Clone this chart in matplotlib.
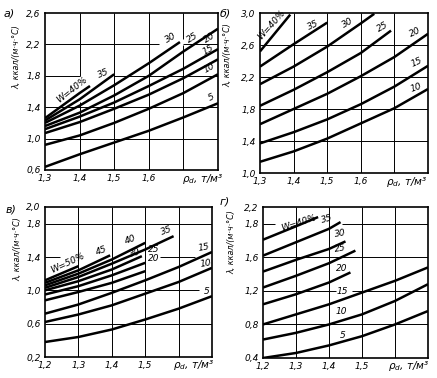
import matplotlib
matplotlib.use("Agg")
import matplotlib.pyplot as plt
import matplotlib.transforms as mtransforms

plt.rcParams['font.family'] = ['DejaVu Sans']
plt.rcParams['font.style'] = 'italic'

# а)
a_x = [1.3, 1.4, 1.5, 1.6, 1.7, 1.8]
a_w5 = [0.64, 0.80, 0.95, 1.10, 1.27, 1.45]
a_w10 = [0.92, 1.04, 1.20, 1.38, 1.58, 1.82]
a_w15 = [1.07, 1.21, 1.38, 1.56, 1.77, 2.01]
a_w20 = [1.12, 1.28, 1.46, 1.67, 1.89, 2.14]
a_w25 = [1.16, 1.33, 1.55, 1.80, 2.11, 2.40]
a_x30 = [1.3, 1.4, 1.5, 1.6, 1.69]
a_w30 = [1.20, 1.42, 1.68, 1.96, 2.23]
a_x35 = [1.3, 1.4, 1.5]
a_w35 = [1.23, 1.50, 1.82]
a_x40 = [1.3, 1.4, 1.43]
a_w40 = [1.26, 1.58, 1.67]

# б)
b_x = [1.3, 1.4, 1.5, 1.6, 1.7, 1.8]
b_w10 = [1.14, 1.27, 1.43, 1.62, 1.81, 2.05]
b_w15 = [1.37, 1.51, 1.67, 1.86, 2.08, 2.34]
b_w20 = [1.61, 1.80, 1.99, 2.21, 2.45, 2.74]
b_x25 = [1.3, 1.4, 1.5, 1.6, 1.69]
b_w25 = [1.84, 2.04, 2.26, 2.50, 2.78]
b_x30 = [1.3, 1.4, 1.5, 1.6, 1.64]
b_w30 = [2.11, 2.33, 2.58, 2.87, 2.99]
b_x35 = [1.3, 1.4, 1.5]
b_w35 = [2.33, 2.61, 2.88]
b_x40 = [1.3, 1.39]
b_w40 = [2.52, 2.98]

# в)
c_x = [1.2, 1.3, 1.4, 1.5, 1.6, 1.7]
c_w5 = [0.38, 0.44, 0.53, 0.65, 0.78, 0.93]
c_w10 = [0.62, 0.71, 0.82, 0.96, 1.10, 1.27]
c_w15 = [0.72, 0.83, 0.97, 1.12, 1.28, 1.46]
c_x20 = [1.2, 1.3, 1.4, 1.5]
c_w20 = [0.88, 0.98, 1.09, 1.23]
c_w25 = [0.95, 1.05, 1.18, 1.33]
c_x30 = [1.2, 1.3, 1.4, 1.49]
c_w30 = [1.00, 1.11, 1.25, 1.41]
c_x35 = [1.2, 1.3, 1.4, 1.5, 1.585]
c_w35 = [1.03, 1.16, 1.32, 1.49, 1.65]
c_x40 = [1.2, 1.3, 1.4, 1.5]
c_w40 = [1.06, 1.20, 1.37, 1.57]
c_x45 = [1.2, 1.3, 1.395]
c_w45 = [1.09, 1.24, 1.42]
c_x50 = [1.2, 1.3]
c_w50 = [1.12, 1.29]

# г)
d_x = [1.2, 1.3, 1.4, 1.5, 1.6, 1.7]
d_w5 = [0.40, 0.46, 0.55, 0.66, 0.80, 0.96]
d_w10 = [0.62, 0.70, 0.80, 0.92, 1.08, 1.28]
d_w15 = [0.80, 0.92, 1.04, 1.18, 1.32, 1.48]
d_x20 = [1.2, 1.3, 1.4, 1.465]
d_w20 = [1.04, 1.16, 1.30, 1.42]
d_x25 = [1.2, 1.3, 1.4, 1.48]
d_w25 = [1.24, 1.38, 1.53, 1.68]
d_x30 = [1.2, 1.3, 1.4, 1.45]
d_w30 = [1.43, 1.57, 1.70, 1.79]
d_x35 = [1.2, 1.3, 1.4, 1.435]
d_w35 = [1.62, 1.78, 1.94, 2.02]
d_x40 = [1.2, 1.3, 1.367]
d_w40 = [1.81, 1.97, 2.08]

ylabel = 'λ, ккал/(м·ч·°С)'
xlabel = r'$\rho_d$, т/м³'


def fmt(v):
    return f'{v:.1f}'.replace('.', ',')


def panel(rect, xlim, ylim, xticks, yticks, ylabels, hgrid, vgrid, hcut, vcut,
          curves, labels, letter, letter_pos, xl_x, yl_pos):
    ax = fig.add_axes(rect)
    ax.set_xlim(xlim)
    ax.set_ylim(ylim)
    ax.set_xticks(xticks, [fmt(v) for v in xticks])
    ax.set_yticks(yticks, ylabels)
    ax.tick_params(length=0, pad=3, labelsize=6.5)
    for s in ax.spines.values():
        s.set_linewidth(1.2)
    for y in hgrid:
        for x0, x1 in hcut.get(y, [xlim]):
            ax.hlines(y, x0, x1, color='k', lw=0.7, zorder=1)
    for x in vgrid:
        for y0, y1 in vcut.get(x, [ylim]):
            ax.vlines(x, y0, y1, color='k', lw=0.7, zorder=1)
    for xs, ys in curves:
        ax.plot(xs, ys, color='k', lw=1.8, solid_capstyle='butt', zorder=3)
    for txt, x, y, rot in labels:
        ax.text(x, y, txt, fontsize=6.5, rotation=rot, ha='center', va='center',
                rotation_mode='anchor', zorder=4)
    trans = mtransforms.blended_transform_factory(ax.transData, ax.transAxes)
    ax.text(xl_x, -0.055, xlabel, transform=trans, fontsize=7.5,
            ha='center', va='center')
    ax.text(yl_pos[0], yl_pos[1], ylabel, transform=ax.transAxes, fontsize=5.8,
            rotation=90, ha='center', va='center')
    fig.text(letter_pos[0] / 437, 1 - letter_pos[1] / 378, letter, fontsize=8,
             ha='left', va='center')
    return ax


fig = plt.figure(figsize=(4.37, 3.78), dpi=100)

panel([45 / 437, 1 - 170 / 378, 173 / 437, 157 / 378],
      (1.3, 1.8), (0.6, 2.6), [1.3, 1.4, 1.5, 1.6],
      [0.6, 1.0, 1.4, 1.8, 2.2, 2.6], ['0,6', '1,0', '1,4', '1,8', '2,2', '2,6'],
      [1.0, 1.4, 1.8, 2.2], [1.4, 1.5, 1.6, 1.7],
      {2.2: [(1.3, 1.63), (1.70, 1.8)], 1.8: [(1.3, 1.4), (1.5, 1.8)]},
      {1.4: [(0.6, 1.47), (1.8, 2.6)], 1.7: [(0.6, 2.19), (2.27, 2.6)]},
      [(a_x, a_w5), (a_x, a_w10), (a_x, a_w15), (a_x, a_w20), (a_x, a_w25),
       (a_x30, a_w30), (a_x35, a_w35), (a_x40, a_w40)],
      [('W=40%', 1.378, 1.62, 38), ('35', 1.47, 1.83, 22), ('30', 1.663, 2.28, 30),
       ('25', 1.726, 2.29, 32), ('20', 1.776, 2.28, 32), ('15', 1.772, 2.13, 30),
       ('10', 1.775, 1.90, 30), ('5', 1.78, 1.52, 25)],
      'а)', (4, 14), 1.755, (-0.16, 0.72))

panel([260 / 437, 1 - 173 / 378, 168 / 437, 160 / 378],
      (1.3, 1.8), (1.0, 3.0), [1.3, 1.4, 1.5, 1.6],
      [1.0, 1.4, 1.8, 2.2, 2.6, 3.0], ['1,0', '1,4', '1,8', '2,2', '2,6', '3,0'],
      [1.4, 1.8, 2.2, 2.6], [1.4, 1.5, 1.6, 1.7], {}, {},
      [(b_x, b_w10), (b_x, b_w15), (b_x, b_w20), (b_x25, b_w25),
       (b_x30, b_w30), (b_x35, b_w35), (b_x40, b_w40)],
      [('W=40%', 1.333, 2.85, 48), ('35', 1.457, 2.84, 25), ('30', 1.56, 2.87, 30),
       ('25', 1.664, 2.82, 30), ('20', 1.762, 2.76, 25), ('15', 1.767, 2.38, 25),
       ('10', 1.766, 2.07, 20)],
      'б)', (220, 13), 1.736, (-0.19, 0.74))

panel([45 / 437, 1 - 357 / 378, 167 / 437, 150 / 378],
      (1.2, 1.7), (0.2, 2.0), [1.2, 1.3, 1.4, 1.5],
      [0.2, 0.6, 1.0, 1.4, 1.8, 2.0], ['0,2', '0,6', '1,0', '1,4', '1,8', '2,0'],
      [0.6, 1.0, 1.4, 1.8], [1.3, 1.4, 1.5, 1.6],
      {1.4: [(1.2, 1.245), (1.545, 1.65)], 1.0: [(1.2, 1.66)]}, {},
      [(c_x, c_w5), (c_x, c_w10), (c_x, c_w15), (c_x20, c_w20), (c_x20, c_w25),
       (c_x30, c_w30), (c_x35, c_w35), (c_x40, c_w40), (c_x45, c_w45),
       (c_x50, c_w50)],
      [('W=50%', 1.268, 1.33, 25), ('45', 1.37, 1.48, 20), ('40', 1.455, 1.61, 20),
       ('35', 1.565, 1.71, 20), ('30', 1.47, 1.45, 15), ('25', 1.525, 1.49, 0),
       ('20', 1.525, 1.38, 0), ('15', 1.675, 1.51, 10), ('10', 1.68, 1.32, 10),
       ('5', 1.683, 0.99, 0)],
      'в)', (6, 210), 1.645, (-0.16, 0.72))

panel([263 / 437, 1 - 358 / 378, 165 / 437, 151 / 378],
      (1.2, 1.7), (0.4, 2.2), [1.2, 1.3, 1.4, 1.5],
      [0.4, 0.8, 1.2, 1.6, 2.0, 2.2], ['0,4', '0,8', '1,2', '1,6', '1,8', '2,2'],
      [0.8, 1.2, 1.6, 2.0], [1.3, 1.4, 1.5, 1.6],
      {2.0: [(1.2, 1.236), (1.44, 1.7)], 1.2: [(1.2, 1.42), (1.47, 1.7)]}, {},
      [(d_x, d_w5), (d_x, d_w10), (d_x, d_w15), (d_x20, d_w20), (d_x25, d_w25),
       (d_x30, d_w30), (d_x35, d_w35), (d_x40, d_w40)],
      [('W=40%', 1.309, 2.01, 18), ('35', 1.393, 2.05, 15), ('30', 1.433, 1.88, 10),
       ('25', 1.433, 1.71, 10), ('20', 1.44, 1.47, 0), ('15', 1.44, 1.19, 0),
       ('10', 1.437, 0.96, 0), ('5', 1.442, 0.67, 0)],
      'г)', (220, 201), 1.64, (-0.19, 0.77))

fig.savefig('out.png', dpi=100)
